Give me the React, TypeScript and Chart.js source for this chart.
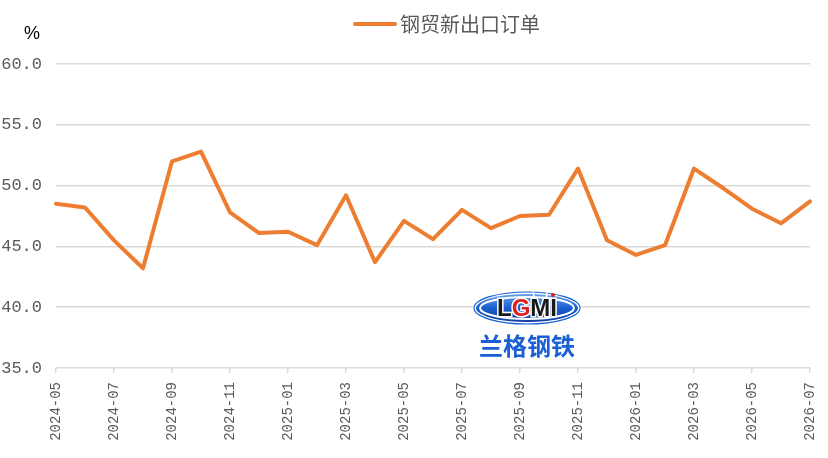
import React, { useEffect, useRef } from "react";
import { Chart, registerables } from "chart.js";

Chart.register(...registerables);

const months: string[] = [
  "2024-05", "2024-06", "2024-07", "2024-08", "2024-09", "2024-10", "2024-11", "2024-12",
  "2025-01", "2025-02", "2025-03", "2025-04", "2025-05", "2025-06", "2025-07", "2025-08",
  "2025-09", "2025-10", "2025-11", "2025-12", "2026-01", "2026-02", "2026-03", "2026-04",
  "2026-05", "2026-06", "2026-07",
];

const newExportOrders: number[] = [
  48.5, 48.2, 45.5, 43.2, 52.0, 52.8, 47.8, 46.1,
  46.2, 45.1, 49.2, 43.7, 47.1, 45.6, 48.0, 46.5,
  47.5, 47.6, 51.4, 45.5, 44.3, 45.1, 51.4, 49.8,
  48.1, 46.9, 48.7,
];

const seriesName = "钢贸新出口订单";
const unitLabel = "%";
const logoLetters = ["L", "G", "M", "I"];
const logoText = "兰格钢铁";

const LINE_COLOR = "#ED7D31";
const GRID_COLOR = "#d9d9d9";
const TEXT_COLOR = "#595959";
const TICK_FONT = "'Liberation Mono', 'DejaVu Sans Mono', monospace";

const decorPlugin = {
  id: "decor",
  beforeDatasetsDraw(chart: any) {
    const ctx = chart.ctx as CanvasRenderingContext2D;
    ctx.save();
    const cx = 527;
    const cy = 308;
    ctx.fillStyle = "#ffffff";
    ctx.fillRect(cx - 54, cy - 17, 108, 52);
    const grad = ctx.createLinearGradient(cx, cy - 15, cx, cy + 15);
    grad.addColorStop(0, "#6aa8ee");
    grad.addColorStop(0.5, "#1b5fd0");
    grad.addColorStop(1, "#0d3f9e");
    ctx.beginPath();
    ctx.ellipse(cx, cy, 51, 14, 0, 0, Math.PI * 2);
    ctx.fillStyle = grad;
    ctx.fill();
    ctx.lineWidth = 2;
    ctx.strokeStyle = "#ffffff";
    ctx.beginPath();
    ctx.ellipse(cx, cy, 47, 11, 0, 0, Math.PI * 2);
    ctx.stroke();
    ctx.lineWidth = 1.2;
    ctx.strokeStyle = "#1b5fd0";
    ctx.beginPath();
    ctx.ellipse(cx, cy, 53, 16, 0, 0, Math.PI * 2);
    ctx.stroke();
    ctx.font = "bold 24px 'Liberation Sans', Arial, sans-serif";
    ctx.textBaseline = "middle";
    ctx.textAlign = "left";
    const colors = ["#1a1a1a", "#e02020", "#1a1a1a", "#1a1a1a"];
    const widths = logoLetters.map((l) => ctx.measureText(l).width);
    const total = widths.reduce((a, b) => a + b, 0);
    let x = cx - total / 2;
    logoLetters.forEach((l, i) => {
      ctx.lineWidth = 3;
      ctx.strokeStyle = "#ffffff";
      ctx.strokeText(l, x, cy + 1);
      ctx.fillStyle = colors[i];
      ctx.fillText(l, x, cy + 1);
      x += widths[i];
    });
    ctx.fillStyle = "#e02020";
    ctx.beginPath();
    ctx.arc(x - 4, cy - 13, 2, 0, Math.PI * 2);
    ctx.fill();
    ctx.font = "bold 24px 'Noto Sans CJK SC', sans-serif";
    ctx.textAlign = "center";
    ctx.fillStyle = "#1a5fd6";
    ctx.fillText(logoText, cx, cy + 38);
    ctx.restore();
  },
  afterDraw(chart: any) {
    const ctx = chart.ctx as CanvasRenderingContext2D;
    ctx.save();
    ctx.strokeStyle = LINE_COLOR;
    ctx.lineWidth = 4;
    ctx.lineCap = "round";
    ctx.beginPath();
    ctx.moveTo(355, 24);
    ctx.lineTo(395, 24);
    ctx.stroke();
    ctx.fillStyle = TEXT_COLOR;
    ctx.font = "20px 'Noto Sans CJK SC', sans-serif";
    ctx.textBaseline = "middle";
    ctx.textAlign = "left";
    ctx.fillText(seriesName, 400, 24);
    ctx.fillStyle = "#000000";
    ctx.font = "18px 'Liberation Sans', Arial, sans-serif";
    ctx.textAlign = "center";
    ctx.fillText(unitLabel, 32, 34);
    ctx.restore();
  },
};

export default function App() {
  const canvasRef = useRef<HTMLCanvasElement | null>(null);

  useEffect(() => {
    if (!canvasRef.current) return;
    const chart = new Chart(canvasRef.current, {
      type: "line",
      data: {
        labels: months,
        datasets: [
          {
            label: seriesName,
            data: newExportOrders,
            borderColor: LINE_COLOR,
            backgroundColor: LINE_COLOR,
            borderWidth: 4,
            pointRadius: 0,
            tension: 0,
            borderJoinStyle: "round",
            borderCapStyle: "round",
          },
        ],
      },
      options: {
        animation: false,
        responsive: false,
        devicePixelRatio: 1,
        layout: { padding: { left: 0, right: 18, top: 64, bottom: 0 } },
        plugins: {
          legend: { display: false },
          tooltip: { enabled: false },
          title: { display: false },
        },
        scales: {
          x: {
            type: "category",
            offset: false,
            border: { display: false },
            grid: {
              drawOnChartArea: false,
              drawTicks: true,
              tickLength: 5,
              color: GRID_COLOR,
              lineWidth: 1.5,
            },
            ticks: {
              autoSkip: false,
              maxRotation: 90,
              minRotation: 90,
              padding: 9,
              color: TEXT_COLOR,
              font: { family: TICK_FONT, size: 14 },
              callback: function (this: any, _v: any, i: number) {
                return i % 2 === 0 ? months[i] : null;
              },
            },
            afterFit: (scale: any) => {
              scale.height = 90;
              scale.paddingLeft = 0;
              scale.paddingRight = 0;
            },
          },
          y: {
            min: 35,
            max: 60,
            border: { display: false },
            grid: {
              drawTicks: false,
              color: GRID_COLOR,
              lineWidth: 1.5,
            },
            ticks: {
              stepSize: 5,
              padding: 14,
              color: TEXT_COLOR,
              font: { family: TICK_FONT, size: 17 },
              callback: (v: any) => Number(v).toFixed(1),
            },
            afterFit: (scale: any) => {
              scale.width = 56;
              scale.paddingTop = 0;
              scale.paddingBottom = 0;
            },
          },
        },
      },
      plugins: [decorPlugin],
    });
    return () => chart.destroy();
  }, []);

  return (
    <div style={{ position: "absolute", left: 0, top: 0, width: 828, height: 458, background: "#ffffff" }}>
      <canvas ref={canvasRef} width={828} height={458} style={{ width: 828, height: 458 }} />
    </div>
  );
}
